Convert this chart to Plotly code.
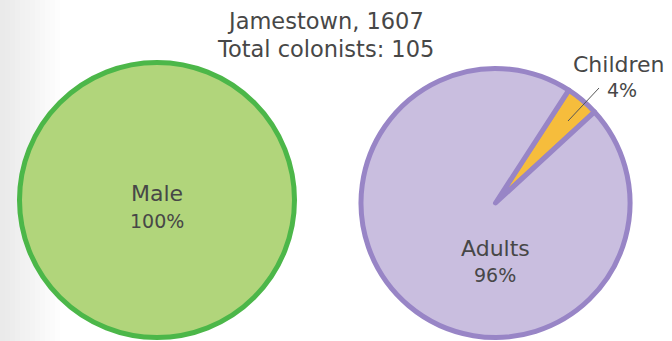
import plotly.graph_objects as go

W, H = 672, 341

title_lines = ["Jamestown, 1607", "Total colonists: 105"]

gender_labels = ["Male"]
gender_values = [100]

age_labels = ["Children", "Adults"]
age_values = [4, 96]

def px(x):
    return x / W

def py(y):
    return 1 - y / H

fig = go.Figure()

fig.add_trace(go.Pie(
    labels=gender_labels, values=gender_values, sort=False,
    marker=dict(colors=["#b1d57b"], line=dict(color="#4cb749", width=5)),
    textinfo="none", hoverinfo="label+percent", showlegend=False,
    domain=dict(x=[px(18), px(296)], y=[py(337.5), py(62.5)]),
))

fig.add_trace(go.Pie(
    labels=age_labels, values=age_values, sort=False, direction="clockwise",
    rotation=33,
    marker=dict(colors=["#f6bd3c", "#c9bedf"], line=dict(color="#9885c6", width=5)),
    textinfo="none", hoverinfo="label+percent", showlegend=False,
    domain=dict(x=[px(361), px(630)], y=[py(337.5), py(68.5)]),
))

font = dict(family="DejaVu Sans", color="#474747")
anns = []
anns.append(dict(x=px(325), y=py(21), text=title_lines[0], font=dict(size=22.5, **font)))
anns.append(dict(x=px(325), y=py(49), text=title_lines[1], font=dict(size=22.5, **font)))
anns.append(dict(x=px(157), y=py(193), text=gender_labels[0], font=dict(size=22, **font)))
anns.append(dict(x=px(157), y=py(221), text=f"{gender_values[0]}%", font=dict(size=19, **font)))
anns.append(dict(x=px(495), y=py(248), text=age_labels[1], font=dict(size=22, **font)))
anns.append(dict(x=px(495), y=py(275), text=f"{age_values[1]}%", font=dict(size=19, **font)))
anns.append(dict(x=px(619), y=py(64), text=age_labels[0], font=dict(size=22, **font)))
anns.append(dict(x=px(622), y=py(90), text=f"{age_values[0]}%", font=dict(size=19, **font)))
for a in anns:
    a.update(xref="paper", yref="paper", showarrow=False, xanchor="center", yanchor="middle")

shapes = []
# soft grey shading at the left edge
steps = 12
for i in range(steps):
    x0 = i * 5
    shapes.append(dict(type="rect", xref="paper", yref="paper",
                       x0=px(x0), x1=px(x0 + 5), y0=0, y1=1,
                       fillcolor="#d8d8d8", opacity=0.55 * (1 - i / steps),
                       line=dict(width=0), layer="below"))
# leader line for Children label
shapes.append(dict(type="line", xref="paper", yref="paper",
                   x0=px(568), y0=py(121), x1=px(599), y1=py(88),
                   line=dict(color="#555555", width=1)))

fig.update_layout(
    width=W, height=H, margin=dict(l=0, r=0, t=0, b=0),
    paper_bgcolor="white", plot_bgcolor="white",
    annotations=anns, shapes=shapes,
)

fig.write_html("out.html")
